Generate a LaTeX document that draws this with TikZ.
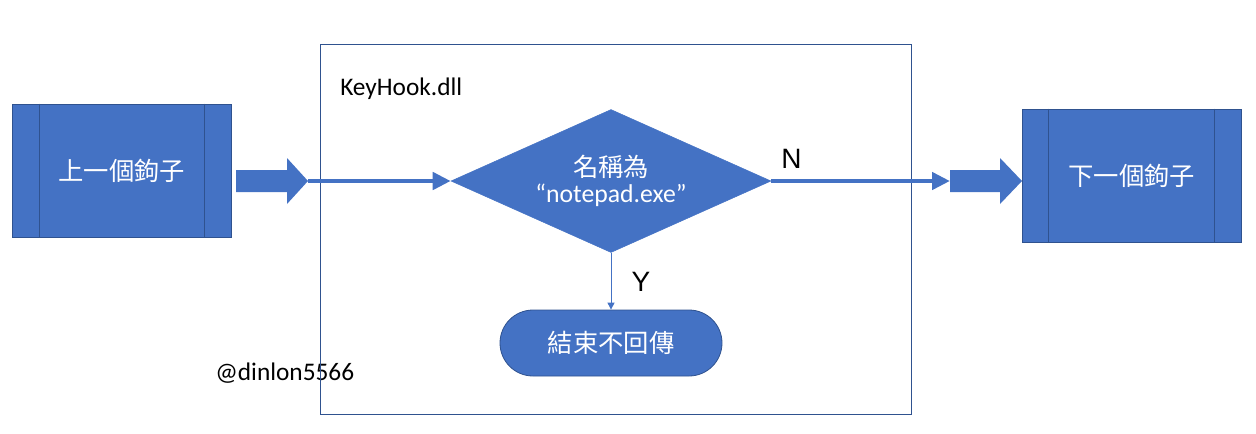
\documentclass[tikz,border=0pt]{standalone}
\usepackage{fontspec}
\setmainfont{Carlito}
\newfontfamily\cjk{Noto Sans CJK TC}
\newfontfamily\arialish{Liberation Sans}
\usetikzlibrary{shapes.geometric,arrows.meta}
\definecolor{blu}{HTML}{4472C4}
\definecolor{edg}{HTML}{2F528F}
\begin{document}
\begin{tikzpicture}[x=0.75pt,y=-0.75pt,
  hookbox/.style={draw=edg, fill=blu, line width=0.75pt, minimum width=164.25pt, minimum height=99.75pt, inner sep=0pt, text=white, font=\cjk\fontsize{19}{22}\selectfont},
  decide/.style={diamond, draw=blu, fill=blu, aspect=2.24, minimum width=240pt, minimum height=107.25pt, inner sep=0pt, text=white, align=center},
  term/.style={draw=edg, fill=blu, line width=0.6pt, minimum width=166.5pt, minimum height=49.5pt, rounded corners=24.75pt, inner sep=0pt, text=white, font=\cjk\fontsize{19}{22}\selectfont},
  blockarrow/.style={fill=blu},
  flow/.style={draw=blu, line width=3.4pt, -{Triangle[length=13.5pt,width=12.75pt]}},
  thinflow/.style={draw=blu, line width=0.75pt, -{Triangle[length=5.25pt,width=5.25pt]}},
  lbl/.style={inner sep=0pt, font=\fontsize{19}{22}\selectfont},
  yn/.style={inner sep=0pt, font=\arialish\fontsize{21}{24}\selectfont}
]
\useasboundingbox (0,0) rectangle (1256,433);
% labels outside frame
\node[lbl, anchor=base west] (credit) at (215,380) {@dinlon5566};
% frame
\node[draw=edg, line width=0.75pt, minimum width=443.25pt, minimum height=277.5pt, inner sep=0pt] (frame) at (615.5,229) {};
\node[lbl, anchor=base west] (dll) at (340,95) {KeyHook.dll};
% hook boxes
\node[hookbox] (prev) at (121.75,170.5) {上一個鉤子};
\draw[edg, line width=0.6pt] ([xshift=20.6pt]prev.north west) -- ([xshift=20.6pt]prev.south west);
\draw[edg, line width=0.6pt] ([xshift=-20.6pt]prev.north east) -- ([xshift=-20.6pt]prev.south east);
\node[hookbox] (next) at (1131.75,175.5) {下一個鉤子};
\draw[edg, line width=0.6pt] ([xshift=20.2pt]next.north west) -- ([xshift=20.2pt]next.south west);
\draw[edg, line width=0.6pt] ([xshift=-20.6pt]next.north east) -- ([xshift=-20.6pt]next.south east);
% block arrows
\fill[blockarrow] (236,170) -- (287,170) -- (287,158) -- (308,181) -- (287,204) -- (287,192) -- (236,192) -- cycle;
\coordinate (ltip) at (308,181);
\fill[blockarrow] (950,170) -- (1000,170) -- (1000,158) -- (1022,181) -- (1000,204) -- (1000,192) -- (950,192) -- cycle;
\coordinate (rtail) at (950,181);
% decision
\node[decide] (dia) at (611,181) {{\cjk\fontsize{19}{22}\selectfont 名稱為}\\[3pt]{\fontsize{19.3}{22}\selectfont “notepad.exe”}};
% terminal
\node[term] (end) at (611,343) {結束不回傳};
% connectors
\draw[flow] (ltip) -- (dia.west);
\draw[flow] (dia.east) -- (rtail);
\draw[thinflow] (dia.south) -- (end.north);
\node[yn] (nlab) at (791.5,159) {N};
\node[yn] (ylab) at (641,282) {Y};
\end{tikzpicture}
\end{document}
